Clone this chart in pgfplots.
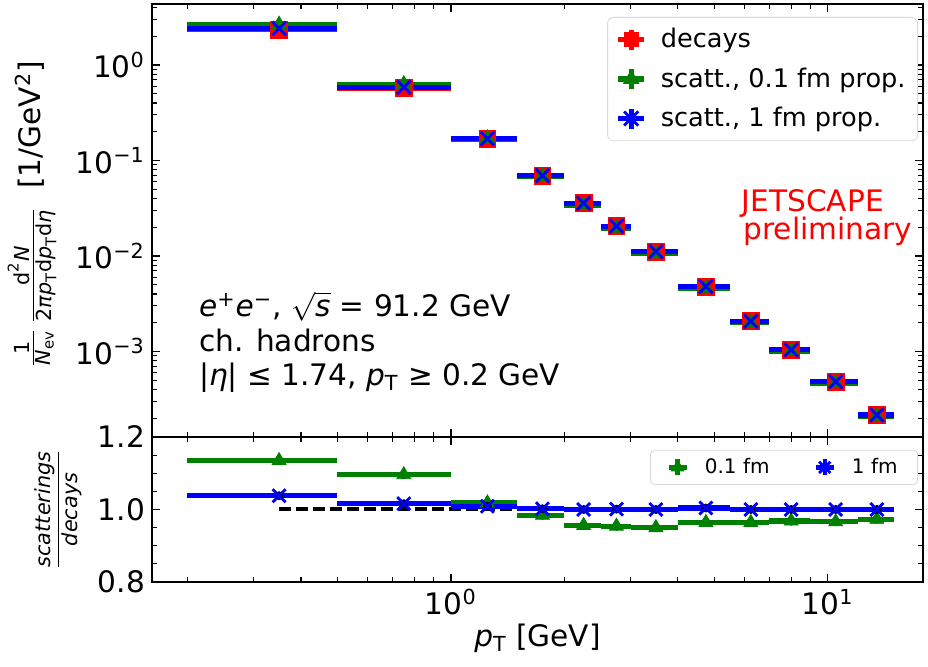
\documentclass[border=0pt]{standalone}
\usepackage{amsmath}
\usepackage{fontspec}
\setmainfont{DejaVu Sans}
\usepackage{pgfplots}
\pgfplotsset{compat=1.18}
\usepackage{pgfplotstable}

\definecolor{cRed}{HTML}{FF0000}
\definecolor{cGreen}{HTML}{008000}
\definecolor{cBlue}{HTML}{0000FF}

\newcommand{\lbl}{\fontsize{14.8}{17}\selectfont}
\newcommand{\pT}{\textit{p}$_{\text{T}}$}

% bin centre, half width, spectra (decays, 0.1 fm, 1 fm) and ratios
\pgfplotstableread{
x     ex    dec       gsc       bsc       rg     rb
0.35  0.15  2.33      2.645     2.414     1.135  1.038
0.75  0.25  0.575     0.630     0.584     1.096  1.016
1.25  0.25  0.168     0.171     0.169     1.018  1.009
1.75  0.25  0.0692    0.0681    0.0694    0.984  1.002
2.25  0.25  0.0356    0.0340    0.0356    0.956  1.000
2.75  0.25  0.0205    0.0196    0.0205    0.954  1.001
3.5   0.5   0.0111    0.01055   0.0111    0.950  1.000
4.75  0.75  0.00477   0.00460   0.00479   0.964  1.004
6.25  0.75  0.00207   0.00200   0.00207   0.964  1.000
8.0   1.0   0.00104   0.00101   0.00104   0.968  1.000
10.5  1.5   0.000483  0.000467  0.000483  0.966  1.000
13.5  1.5   0.000216  0.000210  0.000216  0.973  1.000
}\spec

\pgfplotsset{
  myPanel/.style={
    scale only axis, width=385.5pt, xmin=0.161, xmax=17.9,
    axis line style={line width=0.8pt},
    tick style={black, line width=0.6pt},
    tick align=inside, major tick length=4pt, minor tick length=2.3pt,
    tick label style={font=\lbl},
    minor xtick={0.2,0.3,0.4,0.5,0.6,0.7,0.8,0.9,2,3,4,5,6,7,8,9},
  },
  myBars/.style={forget plot, only marks, mark=none,
    error bars/x dir=both, error bars/x explicit, error bars/error mark=none,
    error bars/error bar style={#1, line width=2.6pt}},
}

\begin{document}
\begin{tikzpicture}
\path[use as bounding box] (-76pt,-42.5pt) rectangle (388pt,291pt);

% ratio panel
\begin{semilogxaxis}[myPanel, at={(0,0)}, anchor=south west, height=72.5pt,
  ymin=0.8, ymax=1.2,
  xtick={1,10}, xticklabels={10\textsuperscript{0},10\textsuperscript{1}},
  ytick={0.8,1.0,1.2}, yticklabels={0.8,1.0,1.2},
  minor ytick={0.85,0.9,0.95,1.05,1.1,1.15},
  xlabel={\pT\ [GeV]},
  xlabel style={font=\lbl, at={(rel axis cs:0.5,0)}, anchor=center, yshift=-28pt},
  ylabel={$\dfrac{\textit{scatterings}}{\textit{decays}}$},
  ylabel style={font=\fontsize{10.4}{12}\selectfont, at={(rel axis cs:0,0.5)}, anchor=center, yshift=47pt},
  legend columns=2,
  legend style={at={(rel axis cs:0.9935,0.911)}, anchor=north east,
    draw=black!15, rounded corners=2pt, fill=white,
    font=\fontsize{10}{12}\selectfont, inner xsep=8pt, inner ysep=2pt},
  legend cell align=left,
  /tikz/every even column/.append style={column sep=20pt},
]
\addplot[black, line width=2pt, dash pattern=on 6pt off 2.5pt, forget plot]
  coordinates {(0.35,1) (13.5,1)};
\addplot[myBars=cGreen] table[x=x, y=rg, x error=ex]{\spec};
\addplot[cGreen, only marks, mark=triangle*, mark size=4pt,
  legend image code/.code={
    \draw[cGreen, line width=2.2pt] (0pt,0pt) -- (9pt,0pt) (4.5pt,-4pt) -- (4.5pt,4pt);
    \draw[cGreen] plot[mark=triangle*, mark size=3.6pt] coordinates {(4.5pt,0pt)};}]
  table[x=x, y=rg]{\spec};
\addlegendentry{\hspace{6pt}0.1 fm}
\addplot[myBars=cBlue] table[x=x, y=rb, x error=ex]{\spec};
\addplot[cBlue, only marks, mark=x, mark size=4.6pt, mark options={line width=1.4pt},
  legend image code/.code={
    \draw[cBlue, line width=2.2pt] (0pt,0pt) -- (9pt,0pt) (4.5pt,-4pt) -- (4.5pt,4pt);
    \draw[cBlue, line width=1.4pt] plot[mark=x, mark size=4pt] coordinates {(4.5pt,0pt)};}]
  table[x=x, y=rb]{\spec};
\addlegendentry{\hspace{6pt}1 fm}
\end{semilogxaxis}

% spectra panel
\begin{loglogaxis}[myPanel, at={(0,72.5pt)}, anchor=south west, height=216.5pt,
  ymin=1.27e-4, ymax=4.35,
  xtick={1,10}, xticklabels={,},
  ytick={1e-3,1e-2,1e-1,1},
  yticklabels={10\textsuperscript{−3},10\textsuperscript{−2},10\textsuperscript{−1},10\textsuperscript{0}},
  minor ytick={2e-4,3e-4,4e-4,5e-4,6e-4,7e-4,8e-4,9e-4,
    2e-3,3e-3,4e-3,5e-3,6e-3,7e-3,8e-3,9e-3,
    2e-2,3e-2,4e-2,5e-2,6e-2,7e-2,8e-2,9e-2,
    0.2,0.3,0.4,0.5,0.6,0.7,0.8,0.9,2,3,4},
  ylabel={$\frac{\text{1}}{\textit{N}_{\text{ev}}}\,\frac{\text{d}^{\text{2}}\textit{N}}{\text{2}\textit{πp}_{\text{T}}\text{d}\textit{p}_{\text{T}}\text{d}\textit{η}}$\ \ [1/GeV\textsuperscript{2}]},
  ylabel style={font=\lbl, at={(rel axis cs:0,0.5)}, anchor=center, yshift=60pt, xshift=3pt},
  legend style={at={(rel axis cs:0.9935,0.97)}, anchor=north east,
    draw=black!15, rounded corners=3pt, fill=white,
    font=\fontsize{12.8}{14}\selectfont, row sep=4.5pt, inner xsep=4pt, inner ysep=3.5pt},
  legend cell align=left,
]
\addplot[myBars=cRed] table[x=x, y=dec, x error=ex]{\spec};
\addplot[myBars=cGreen] table[x=x, y=gsc, x error=ex]{\spec};
\addplot[myBars=cBlue] table[x=x, y=bsc, x error=ex]{\spec};
\addplot[cRed, only marks, mark=square*, mark size=4.2pt,
  legend image code/.code={
    \draw[cRed, line width=2.6pt] (0pt,0pt) -- (13pt,0pt) (6.5pt,-5pt) -- (6.5pt,5pt);
    \draw[cRed] plot[mark=square*, mark size=3.6pt] coordinates {(6.5pt,0pt)};}]
  table[x=x, y=dec]{\spec};
\addlegendentry{\hspace{5pt}decays}
\addplot[cGreen, only marks, mark=triangle*, mark size=4.2pt,
  legend image code/.code={
    \draw[cGreen, line width=2.6pt] (0pt,0pt) -- (13pt,0pt) (6.5pt,-5pt) -- (6.5pt,5pt);
    \draw[cGreen] plot[mark=triangle*, mark size=4.4pt] coordinates {(6.5pt,0pt)};}]
  table[x=x, y=gsc]{\spec};
\addlegendentry{\hspace{5pt}scatt., 0.1 fm prop.}
\addplot[cBlue, only marks, mark=x, mark size=4.8pt, mark options={line width=1.4pt},
  legend image code/.code={
    \draw[cBlue, line width=2.6pt] (0pt,0pt) -- (13pt,0pt) (6.5pt,-5pt) -- (6.5pt,5pt);
    \draw[cBlue, line width=1.4pt] plot[mark=x, mark size=5pt] coordinates {(6.5pt,0pt)};}]
  table[x=x, y=bsc]{\spec};
\addlegendentry{\hspace{5pt}scatt., 1 fm prop.}

\node[font=\lbl, anchor=base west] at (rel axis cs:0.052,0.278)
  {\textit{e}\textsuperscript{+}\textit{e}\textsuperscript{−}, $\sqrt{\text{\textit{s}}}$ = 91.2 GeV};
\node[font=\lbl, anchor=base west] at (rel axis cs:0.052,0.197) {ch. hadrons};
\node[font=\lbl, anchor=base west] at (rel axis cs:0.052,0.120)
  {|\textit{η}| ≤ 1.74, \pT\ ≥ 0.2 GeV};
\node[font=\lbl, text=cRed, anchor=base west] at (rel axis cs:0.756,0.521) {JETSCAPE};
\node[font=\lbl, text=cRed, anchor=base west] at (rel axis cs:0.758,0.456) {preliminary};
\end{loglogaxis}
\end{tikzpicture}
\end{document}
